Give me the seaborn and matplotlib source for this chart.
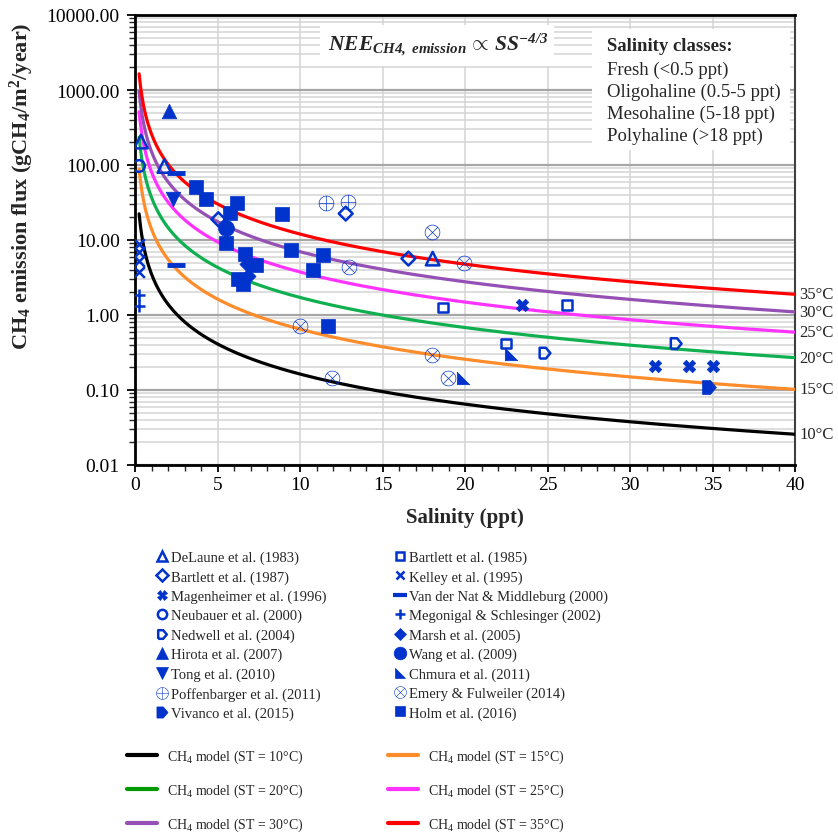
import numpy as np
import pandas as pd
import matplotlib
matplotlib.use("Agg")
import matplotlib.pyplot as plt
import seaborn as sns
from matplotlib.lines import Line2D
from matplotlib.patches import Rectangle
from matplotlib.ticker import LogLocator, MultipleLocator, FuncFormatter, NullFormatter

# ---------------- data ----------------
delaune_x = [0.36, 1.78, 18.04];            delaune_y = [205, 97, 5.65]
bartlett85_x = [18.65, 22.5, 26.2];         bartlett85_y = [1.26, 0.415, 1.35]
bartlett87_x = [5.05, 12.77, 16.57];        bartlett87_y = [18.9, 22.5, 5.65]
kelley_x = [0.25, 0.25, 0.25, 0.25];        kelley_y = [8.8, 6.9, 5.3, 3.7]
magenheimer_x = [23.43, 31.5, 33.6, 35.05]; magenheimer_y = [1.35, 0.21, 0.21, 0.21]
vandernat_x = [2.48, 2.47];                 vandernat_y = [77.6, 4.6]
neubauer_x = [0.24];                        neubauer_y = [97]
megonigal_x = [0.25, 0.25];                 megonigal_y = [1.85, 1.3]
nedwell_x = [24.85, 32.8];                  nedwell_y = [0.31, 0.415]
marsh_x = [6.77, 6.87];                     marsh_y = [4.8, 3.3]
hirota_x = [2.08];                          hirota_y = [525]
wang_x = [5.52];                            wang_y = [14.3]
tong_x = [2.28];                            tong_y = [35.6]
chmura_x = [19.9, 22.8];                    chmura_y = [0.146, 0.30]
poffenbarger_x = [11.58, 12.89];            poffenbarger_y = [30.9, 32.5]
emery_x = [17.98, 12.97, 10.0, 17.98, 11.96, 18.99, 19.96]
emery_y = [12.8, 4.37, 0.71, 0.29, 0.143, 0.143, 5.0]
vivanco_x = [34.8];                         vivanco_y = [0.111]
holm_x = [3.68, 4.28, 6.16, 5.76, 8.89, 5.5, 9.45, 6.67, 11.37, 7.33, 10.77, 6.26, 6.57, 11.7]
holm_y = [51.5, 34.9, 31.4, 23.2, 22.5, 9.2, 7.4, 6.6, 6.25, 4.6, 3.95, 3.0, 2.62, 0.72]

study_labels = ["DeLaune et al. (1983)", "Bartlett et al. (1985)", "Bartlett et al. (1987)",
                "Kelley et al. (1995)", "Magenheimer et al. (1996)",
                "Van der Nat & Middleburg (2000)", "Neubauer et al. (2000)",
                "Megonigal & Schlesinger (2002)", "Nedwell et al. (2004)", "Marsh et al. (2005)",
                "Hirota et al. (2007)", "Wang et al. (2009)", "Tong et al. (2010)",
                "Chmura et al. (2011)", "Poffenbarger et al. (2011)", "Emery & Fulweiler (2014)",
                "Vivanco et al. (2015)", "Holm et al. (2016)"]

# model curves: NEE ∝ SS^(-4/3); flux level at 40 ppt
temps = [10, 15, 20, 25, 30, 35]
flux_at_40ppt = [0.0257, 0.102, 0.27, 0.59, 1.10, 1.89]
exponent = -4.0 / 3.0
curve_colors = ["#000000", "#FF8C2A", "#10B050", "#FF33FF", "#9450B4", "#FF0000"]
legend_line_colors = ["#000000", "#FF8C2A", "#009A00", "#FF33FF", "#9450B4", "#FF0000"]

salinity_classes = ["Fresh (<0.5 ppt)", "Oligohaline (0.5-5 ppt)",
                    "Mesohaline (5-18 ppt)", "Polyhaline (>18 ppt)"]
yticks = [0.01, 0.1, 1, 10, 100, 1000, 10000]

# ---------------- style ----------------
sns.set_theme(style="white")
plt.rcParams["font.family"] = ["Liberation Serif", "DejaVu Serif"]
plt.rcParams["mathtext.fontset"] = "custom"
plt.rcParams["mathtext.rm"] = "Liberation Serif"
plt.rcParams["mathtext.it"] = "Liberation Serif:italic"
plt.rcParams["mathtext.bf"] = "Liberation Serif:bold"
plt.rcParams["mathtext.bfit"] = "Liberation Serif:italic:bold"

BLUE = "#0033CC"

fig = plt.figure(figsize=(8.38, 8.37), dpi=100)
ax = fig.add_axes([135 / 838, 1 - 466 / 837, 660 / 838, 450 / 837])
ax.set_yscale("log")

# ---------------- model curves ----------------
sal_grid = np.linspace(0.25, 40, 500)
rows = []
for t, f40 in zip(temps, flux_at_40ppt):
    for s in sal_grid:
        rows.append((s, f40 * (s / 40.0) ** exponent, f"{t}"))
curves = pd.DataFrame(rows, columns=["sal", "flux", "temp"])
sns.lineplot(data=curves, x="sal", y="flux", hue="temp",
             palette=dict(zip([str(t) for t in temps], curve_colors)),
             estimator=None, sort=False, lw=2.3, legend=False, ax=ax, zorder=3)

# ---------------- markers ----------------
chmura_marker = [(-1, 1), (-1, -1), (1, -1), (-1, 1)]
pent_right = [(-1, -1), (0.15, -1), (1, 0), (0.15, 1), (-1, 1), (-1, -1)]

# (x, y, marker, size, kind, linewidth)
specs = [
    (delaune_x, delaune_y, "^", 95, "open", 1.8),
    (bartlett85_x, bartlett85_y, "s", 48, "open", 1.8),
    (bartlett87_x, bartlett87_y, "D", 50, "open", 1.8),
    (kelley_x, kelley_y, "x", 60, "line", 1.8),
    (magenheimer_x, magenheimer_y, "X", 80, "filled", 0.5),
    (vandernat_x, vandernat_y, "_", 150, "line", 3.5),
    (neubauer_x, neubauer_y, "o", 70, "open", 1.8),
    (megonigal_x, megonigal_y, "+", 70, "line", 1.8),
    (nedwell_x, nedwell_y, pent_right, 60, "open", 1.8),
    (marsh_x, marsh_y, "D", 60, "filled", 0.5),
    (hirota_x, hirota_y, "^", 110, "filled", 0.5),
    (wang_x, wang_y, "o", 130, "filled", 0.5),
    (tong_x, tong_y, "v", 110, "filled", 0.5),
    (chmura_x, chmura_y, chmura_marker, 80, "filled", 0.5),
    (poffenbarger_x, poffenbarger_y, r"$\oplus$", 125, "filled", 0.0),
    (emery_x, emery_y, r"$\otimes$", 125, "filled", 0.0),
    (vivanco_x, vivanco_y, pent_right, 100, "filled", 0.5),
    (holm_x, holm_y, "s", 90, "filled", 0.5),
]

handles = []
for (xs, ys, mk, sz, kind, lw), lab in zip(specs, study_labels):
    df = pd.DataFrame({"x": xs, "y": ys})
    kw = dict(marker=mk, s=sz, linewidth=lw, zorder=6)
    if kind == "filled":
        kw.update(color=BLUE, edgecolor=BLUE)
    elif kind == "open":
        kw.update(color=BLUE, facecolor="none", edgecolor=BLUE)
    else:
        kw.update(color=BLUE)
    sns.scatterplot(data=df, x="x", y="y", ax=ax, legend=False, **kw)
    ms = np.sqrt(sz) * 0.8
    if kind == "open":
        h = Line2D([], [], ls="none", marker=mk, markersize=ms, markerfacecolor="none",
                   markeredgecolor=BLUE, markeredgewidth=lw)
    elif kind == "line":
        h = Line2D([], [], ls="none", marker=mk, markersize=ms, color=BLUE,
                   markeredgewidth=lw if mk != "_" else 3)
    else:
        h = Line2D([], [], ls="none", marker=mk, markersize=ms, markerfacecolor=BLUE,
                   markeredgecolor=BLUE, markeredgewidth=lw)
    handles.append((h, lab))

# ---------------- axes formatting ----------------
ax.set_xlim(0, 40)
ax.set_ylim(0.01, 10000)
ax.xaxis.set_major_locator(MultipleLocator(5))
ax.xaxis.set_minor_locator(MultipleLocator(1))
ax.yaxis.set_major_locator(LogLocator(base=10, numticks=20))
ax.yaxis.set_minor_locator(LogLocator(base=10, subs=np.arange(2, 10), numticks=100))
ax.yaxis.set_minor_formatter(NullFormatter())
ax.yaxis.set_major_formatter(FuncFormatter(lambda v, p: f"{v:.2f}"))
ax.set_yticks(yticks)
ax.tick_params(axis="both", which="major", labelsize=14, colors="black", direction="out")
ax.tick_params(axis="y", which="major", left=True, length=6, width=1.3, pad=5)
ax.tick_params(axis="y", which="minor", left=True, length=4, width=1.0)
ax.tick_params(axis="x", which="major", bottom=True, length=5, width=1.3, pad=3)
ax.tick_params(axis="x", which="minor", bottom=True, length=4, width=1.0)

ax.set_axisbelow(True)
ax.grid(which="major", axis="y", color="#A6A6A6", lw=1.6)
ax.grid(which="minor", axis="y", color="#D4D4D4", lw=1.1)
ax.grid(which="major", axis="x", color="#D4D4D4", lw=1.1)

for side in ["left", "bottom", "top"]:
    ax.spines[side].set_color("black")
    ax.spines[side].set_linewidth(2.0)
ax.spines["right"].set_color("#404040")
ax.spines["right"].set_linewidth(1.5)

ax.set_xlabel("Salinity (ppt)", fontsize=15, fontweight="bold")
ax.set_ylabel(r"CH$_\mathbf{4}$ emission flux (gCH$_\mathbf{4}$/m$^\mathbf{2}$/year)",
              fontsize=16, fontweight="bold")
ax.xaxis.set_label_coords(0.5, -0.094)
ax.yaxis.set_label_coords(-0.150, 0.622)

# temperature labels at curve ends
for t, f40 in zip(temps, flux_at_40ppt):
    ax.annotate(f"{t}°C", xy=(40, f40), xytext=(3, 0), textcoords="offset points",
                ha="left", va="center", fontsize=12, annotation_clip=False)

# equation box
ax.add_patch(Rectangle((0.280, 0.887), 0.355, 0.090, transform=ax.transAxes,
                       facecolor="white", edgecolor="none", zorder=2))
ax.text(0.459, 0.936, r"$\mathbfit{NEE}_{\mathbfit{CH4,\ emission}}\,\propto\,\mathbfit{SS}^{\mathbfit{-4/3}}$",
        transform=ax.transAxes, ha="center", va="center", fontsize=15.5, zorder=7)

# salinity classes box
ax.add_patch(Rectangle((0.692, 0.700), 0.300, 0.270, transform=ax.transAxes,
                       facecolor="white", edgecolor="none", zorder=2))
ax.text(0.715, 0.932, "Salinity classes:", transform=ax.transAxes, ha="left", va="center",
        fontsize=13.5, fontweight="bold", zorder=7)
for i, s in enumerate(salinity_classes):
    ax.text(0.715, 0.880 - i * 0.0495, s, transform=ax.transAxes, ha="left", va="center",
            fontsize=13.5, zorder=7)

# ---------------- legends ----------------
order = list(range(0, 18, 2)) + list(range(1, 18, 2))
leg1 = fig.legend([handles[i][0] for i in order], [handles[i][1] for i in order],
                  ncol=2, loc="upper left", bbox_to_anchor=(0.186, 0.341),
                  frameon=False, fontsize=10.5, handlelength=0.8, handletextpad=0.25,
                  labelspacing=0.41, columnspacing=4.6, borderpad=0, borderaxespad=0)

line_handles = [Line2D([], [], color=c, lw=3) for c in legend_line_colors]
line_labels = [f"CH$_4$ model (ST = {t}°C)" for t in temps]
lorder = [0, 2, 4, 1, 3, 5]
leg2 = fig.legend([line_handles[i] for i in lorder], [line_labels[i] for i in lorder],
                  ncol=2, loc="upper left", bbox_to_anchor=(0.152, 0.106),
                  frameon=False, fontsize=10, handlelength=2.15, handletextpad=0.72,
                  labelspacing=1.2, columnspacing=6.1, borderpad=0, borderaxespad=0)

fig.savefig("out.png", dpi=100)
